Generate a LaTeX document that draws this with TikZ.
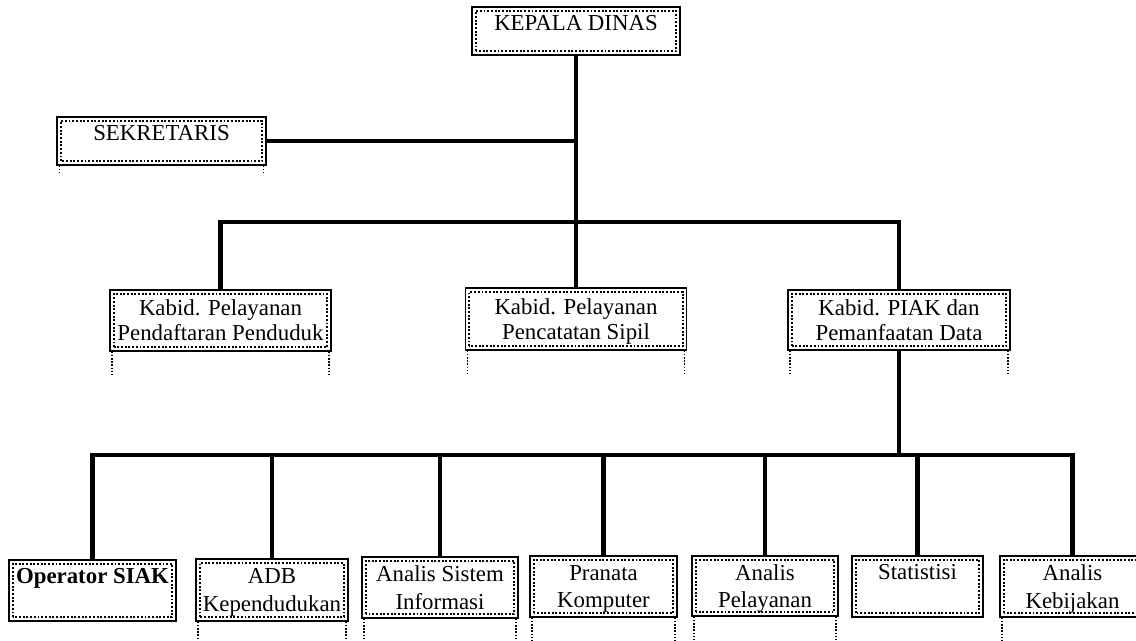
\documentclass[tikz,border=0pt]{standalone}
\usepackage{fontspec}
\setmainfont{Liberation Serif}
\begin{document}
\begin{tikzpicture}[x=0.02cm,y=-0.02cm,
  unit/.style={draw, line width=0.9pt, align=center, inner sep=0pt, text depth=0pt,
    font=\fontsize{13}{14.2}\selectfont,
    path picture={\draw[densely dotted, line width=1.1pt]
      ([shift={(2.2pt,2.2pt)}]path picture bounding box.south west) rectangle
      ([shift={(-2.2pt,-2.2pt)}]path picture bounding box.north east);}},
  staff/.style={unit, font=\fontsize{13}{15.6}\selectfont},
  sz/.style 2 args={minimum width=#1*0.02cm, minimum height=#2*0.02cm},
  link/.style={line width=2.3pt, line join=miter},
  hang/.style={densely dotted, line width=0.8pt}]
\useasboundingbox (0,0) rectangle (1136,640);

% head and secretary
\node[unit, sz={208}{48}] (kd) at (576,31) {KEPALA DINAS\\[-4.6pt]~};
\node[unit, sz={209}{48}] (sek) at (161.5,141) {SEKRETARIS\\[-4.6pt]~};

% division heads
\node[unit, sz={221}{61}] (b1) at (220.5,320.5) {Kabid. Pelayanan\\Pendaftaran Penduduk};
\node[unit, sz={221}{62}] (b2) at (576,319) {Kabid. Pelayanan\\Pencatatan Sipil};
\node[unit, sz={222}{60}] (b3) at (899,320) {Kabid. PIAK dan\\Pemanfaatan Data};

% functional staff
\node[staff, sz={167}{61}] (o1) at (92.5,590.5) {\textbf{Operator SIAK}\\[1pt]~};
\node[staff, sz={152}{62}] (o2) at (272,590) {ADB\\Kependudukan};
\node[staff, sz={156}{61}] (o3) at (440,587.5) {Analis Sistem\\Informasi};
\node[staff, sz={147}{61}] (o4) at (603.5,586.5) {Pranata\\Komputer};
\node[staff, sz={146}{60}] (o5) at (765,586) {Analis\\Pelayanan};
\node[staff, sz={131}{61}] (o6) at (917.5,586.5) {Statistisi\\[1pt]~};
\node[staff, sz={145}{61}] (o7) at (1072.5,586.5) {Analis\\Kebijakan};

% junction points of the buses
\coordinate (t1) at (576,222);
\coordinate (t2) at (899,455);

% connectors
\draw[link] (kd.south) -- (b2.north);
\draw[link] (sek.east) -- (sek.east -| kd.south);
\draw[link] (b1.north) |- (t1) -| (b3.north);
\draw[link] (b3.south) -- (t2);
\draw[link] (o1.north) |- (t2) -| (o7.north);
\foreach \n in {o2,o3,o4,o5,o6}
  \draw[link] (\n.north) -- (\n.north |- t2);

% dotted guide lines below the boxes
\draw[hang] ([xshift=2pt]sek.south west) -- ++(0,7);
\draw[hang] ([xshift=-2pt]sek.south east) -- ++(0,7);
\foreach \n in {b1,b2,b3} {
  \draw[hang] ([xshift=1.5pt]\n.south west) -- ++(0,23);
  \draw[hang] ([xshift=-1.5pt]\n.south east) -- ++(0,23);
}
\foreach \n in {o2,o3,o4,o5} {
  \draw[hang] ([xshift=1.5pt]\n.south west) -- ++(0,25);
  \draw[hang] ([xshift=-1.5pt]\n.south east) -- ++(0,25);
}
\draw[hang] ([xshift=1.5pt]o7.south west) -- ++(0,25);
\end{tikzpicture}
\end{document}
